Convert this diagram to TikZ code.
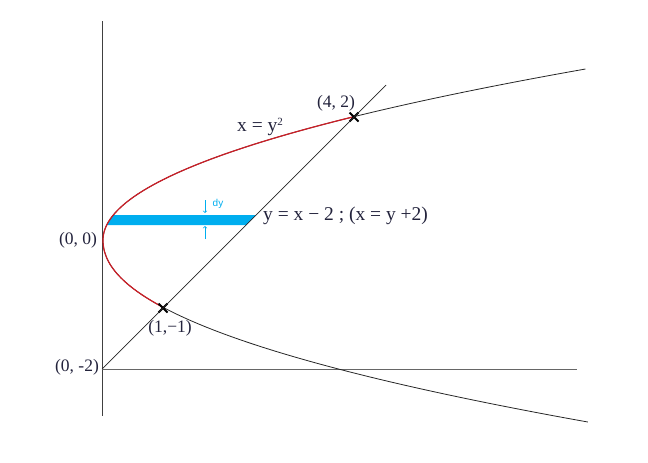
\documentclass[tikz,border=0pt]{standalone}
\usepackage{fontspec}
\setmainfont{Liberation Serif}
\setsansfont{Liberation Sans}
\usetikzlibrary{shapes.misc}
\definecolor{stripc}{RGB}{0,174,239}
\definecolor{curvec}{RGB}{205,30,38}
\definecolor{labelc}{RGB}{35,35,60}
\begin{document}
\begin{tikzpicture}[x=1pt,y=-1pt,
  declare function={upx(\t)=103+165*(\t/100)^2; lowx(\t)=103+137.9*pow(\t/100,2.1);},
  lab/.style={text=labelc,font=\fontsize{17.5}{17.5}\selectfont,inner sep=0pt},
  eqlab/.style={text=labelc,font=\fontsize{19.5}{19.5}\selectfont,inner sep=0pt},
  crossmark/.style={draw,cross out,line width=2pt,minimum size=7pt,inner sep=0pt}]
\useasboundingbox (0,0) rectangle (648,463);
\coordinate (ytop) at (102,21);
\coordinate (ybot) at (102,416);
\coordinate (m2) at (102,369);
\coordinate (hend) at (577,369);
\coordinate (lend) at (386,85);
% strip
\fill[stripc] (113,215) -- (256,215) -- (246,225) -- (107,225) -- cycle;
% axes
\path[draw,line width=0.9pt,black!75] (ytop) -- (ybot);
\path[draw,line width=0.9pt,black!60] (m2) -- (hend);
% parabola x = y^2
\path[draw,line width=0.8pt,black!85] plot[domain=171:0,samples=60] ({upx(\x)},{240-\x})
  -- plot[domain=0:182,samples=60] ({lowx(\x)},{240+\x});
\path[draw,line width=1.2pt,curvec] plot[domain=123:0,samples=50] ({upx(\x)},{240-\x})
  -- plot[domain=0:68,samples=30] ({lowx(\x)},{240+\x});
% line y = x - 2
\node[crossmark] (pa) at (354,117) {};
\node[crossmark] (pb) at (163,308) {};
\path[draw,line width=0.7pt,black!85] (m2) -- (pb.center) -- (pa.center) -- (lend);
% dy
\coordinate (dya) at (205,200);
\coordinate (dyb) at (205,213);
\coordinate (dyc) at (205,239);
\coordinate (dyd) at (205,226);
\path[draw,stripc,line width=0.7pt,->] (dya) -- (dyb);
\path[draw,stripc,line width=0.7pt,->] (dyc) -- (dyd);
\node[text=stripc,font=\fontsize{10}{10}\sffamily,inner sep=0pt] (dy) at (218,204) {dy};
% labels
\node[lab] (o) at (78,240) {(0, 0)};
\node[lab] (a) at (336,103) {(4, 2)};
\node[lab] (b) at (170,328) {(1,−1)};
\node[lab] (c) at (77,367) {(0, -2)};
\node[eqlab] (par) at (260,127) {x = y\raisebox{0.7ex}{\fontsize{11}{11}\selectfont 2}};
\node[eqlab,anchor=west] (lin) at (263,216) {y = x − 2 ; (x = y +2)};
\end{tikzpicture}
\end{document}
